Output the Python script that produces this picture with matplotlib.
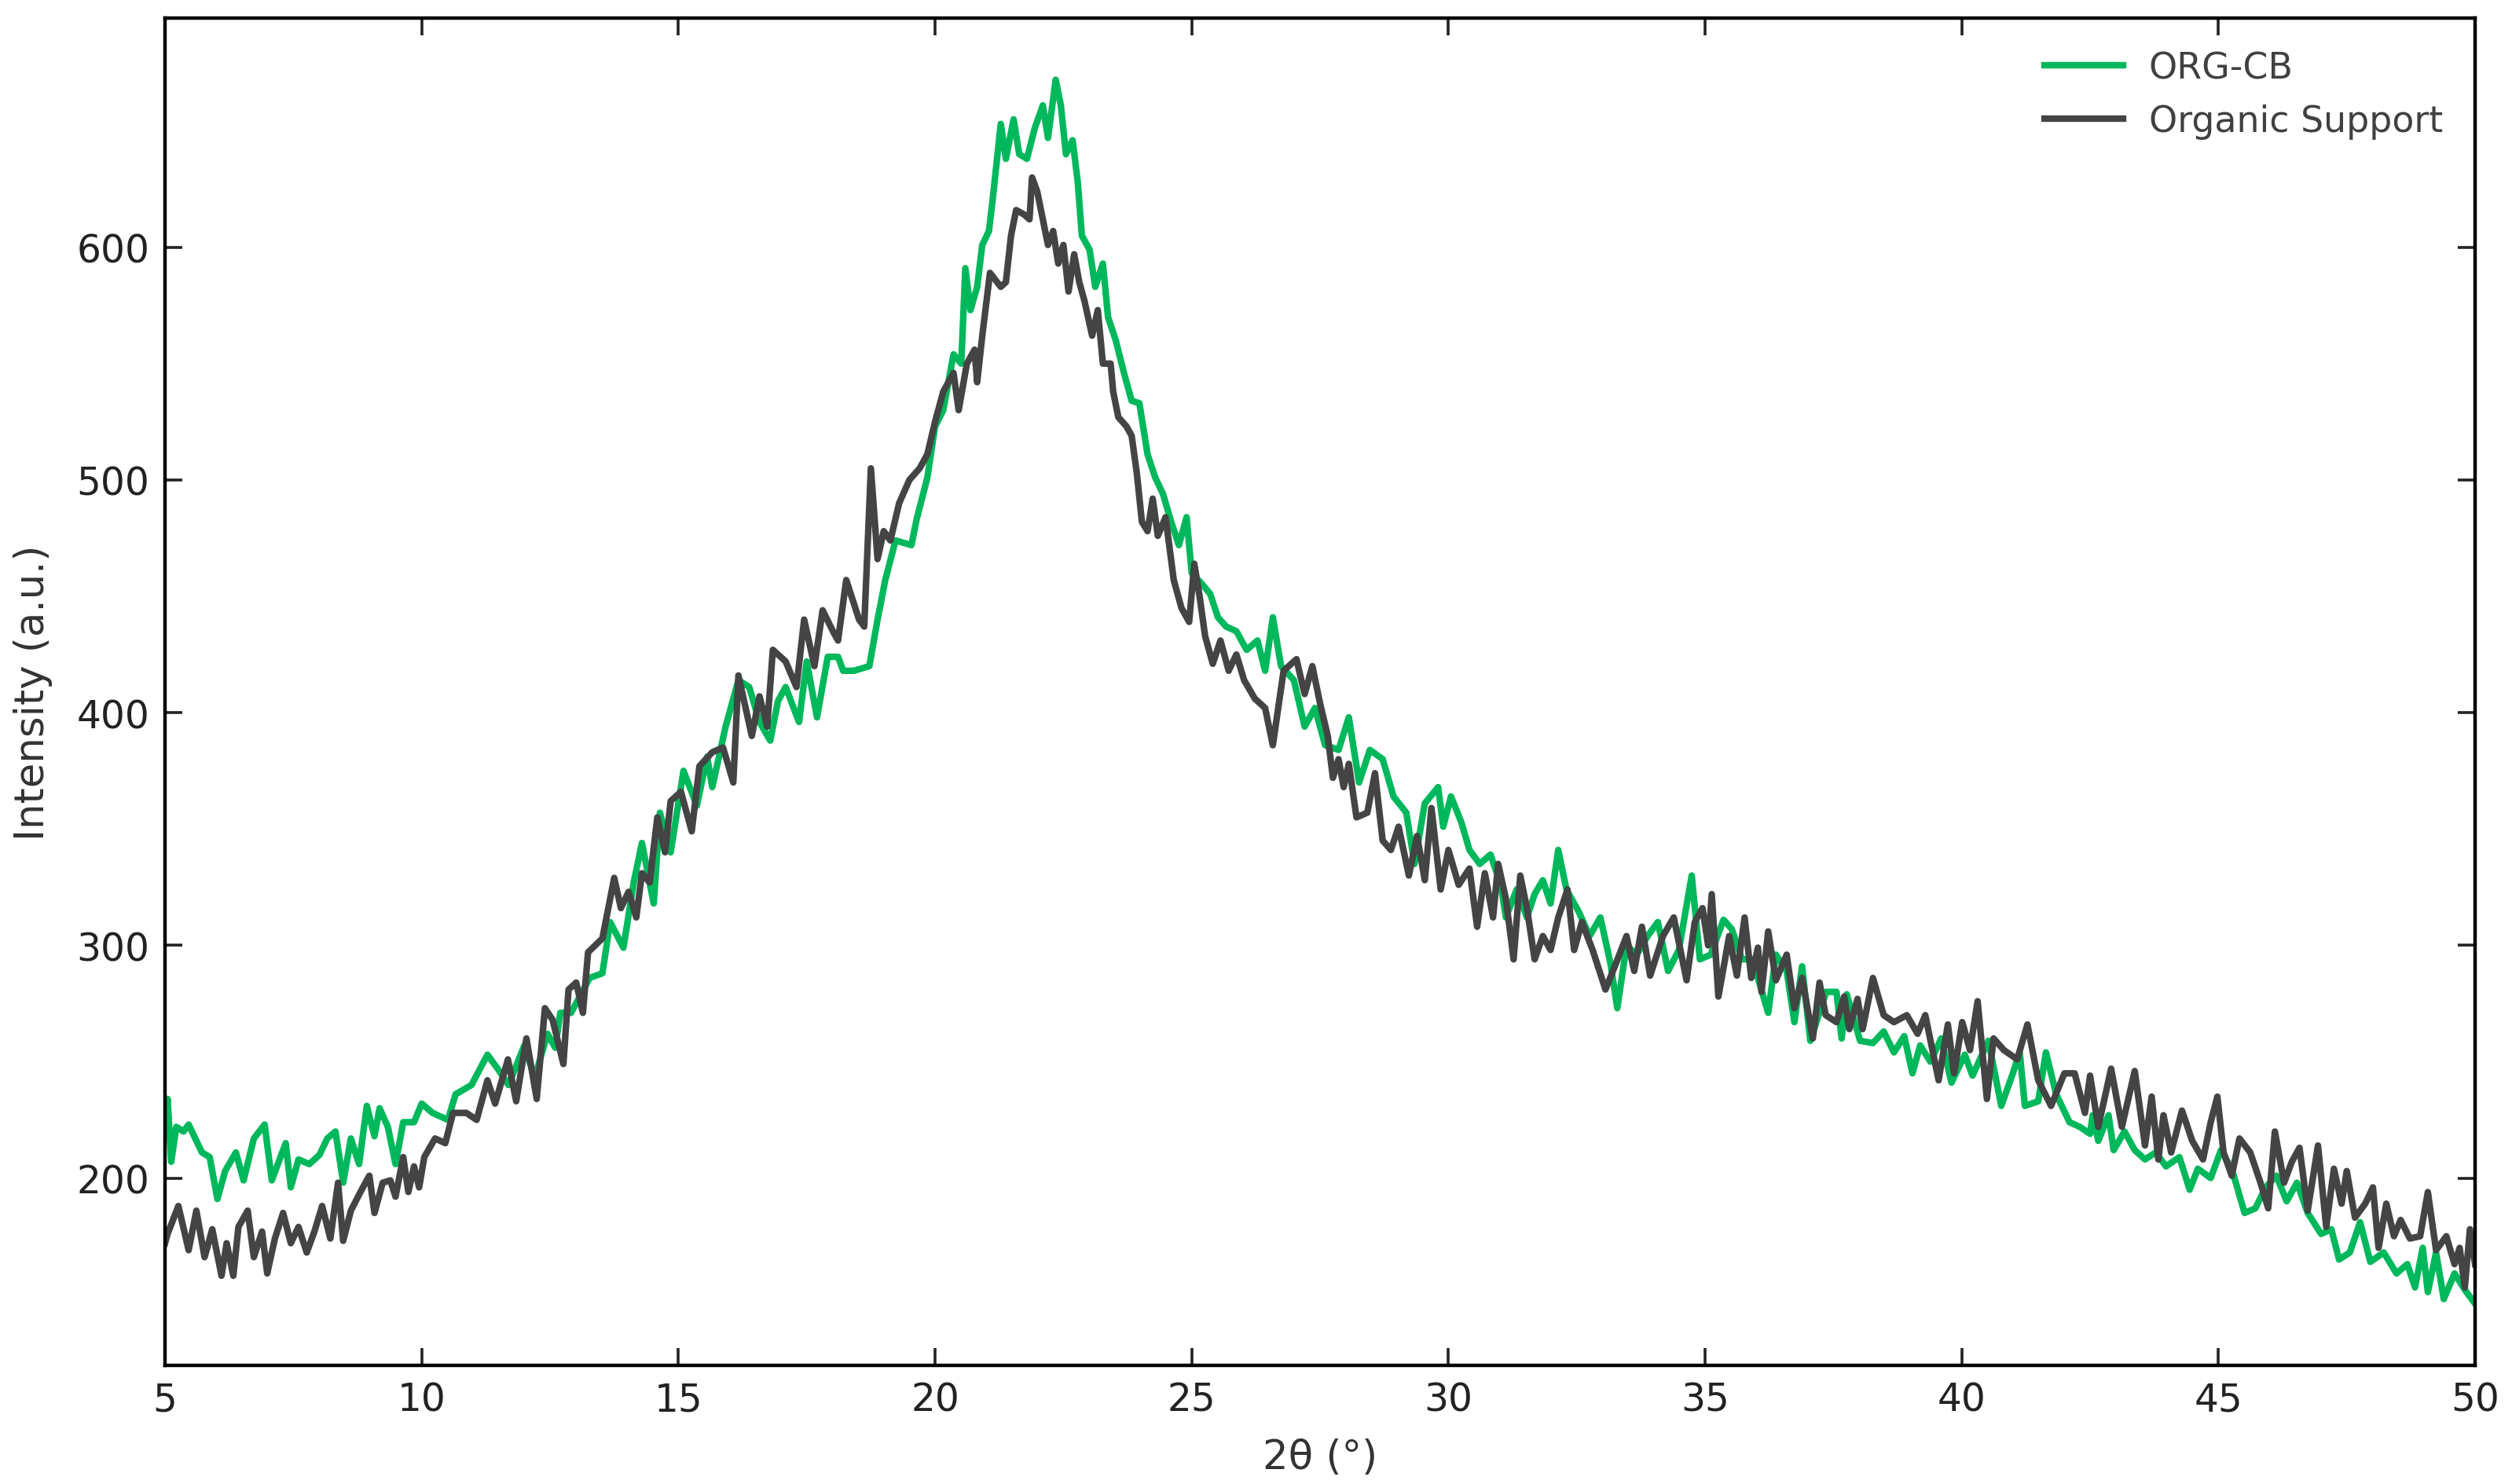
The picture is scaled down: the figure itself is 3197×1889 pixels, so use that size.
import matplotlib
matplotlib.use("Agg")
import matplotlib.pyplot as plt

# ORG-CB pattern
two_theta_org = [
    5.00, 5.05, 5.12, 5.22, 5.36, 5.46, 5.61, 5.72, 5.87, 6.02, 6.17, 6.38, 6.53, 6.73, 6.94,
    7.08, 7.35, 7.45, 7.60, 7.81, 8.01, 8.16, 8.32, 8.47, 8.62, 8.78, 8.93, 9.08, 9.18, 9.34,
    9.49, 9.64, 9.85, 10.00, 10.21, 10.41, 10.51, 10.66, 10.97, 11.28, 11.48, 11.69, 12.00,
    12.20, 12.45, 12.60, 12.70, 12.91, 13.27, 13.52, 13.67, 13.93, 14.13, 14.29, 14.52, 14.64,
    14.85, 15.10, 15.36, 15.56, 15.66, 15.92, 16.17, 16.38, 16.58, 16.79, 16.94, 17.09, 17.35,
    17.50, 17.70, 17.91, 18.11, 18.21, 18.42, 18.72, 18.88, 19.03, 19.23, 19.54, 19.64, 19.85,
    20.00, 20.16, 20.36, 20.51, 20.59, 20.69, 20.82, 20.92, 21.05, 21.13, 21.28, 21.38, 21.53,
    21.64, 21.79, 21.94, 22.10, 22.20, 22.35, 22.45, 22.55, 22.68, 22.78, 22.86, 23.01, 23.12,
    23.27, 23.37, 23.52, 23.68, 23.83, 23.98, 24.14, 24.29, 24.44, 24.60, 24.75, 24.90, 25.00,
    25.21, 25.36, 25.51, 25.67, 25.87, 26.07, 26.28, 26.43, 26.58, 26.74, 26.99, 27.20, 27.40,
    27.60, 27.86, 28.06, 28.26, 28.47, 28.72, 28.93, 29.18, 29.34, 29.54, 29.80, 29.90, 30.05,
    30.25, 30.41, 30.61, 30.82, 31.02, 31.12, 31.33, 31.53, 31.68, 31.84, 31.99, 32.14, 32.30,
    32.55, 32.75, 32.96, 33.16, 33.29, 33.47, 33.67, 33.88, 34.08, 34.28, 34.49, 34.74, 34.90,
    35.11, 35.36, 35.52, 35.72, 35.92, 36.23, 36.38, 36.59, 36.74, 36.89, 37.05, 37.36, 37.56,
    37.66, 37.76, 38.02, 38.27, 38.48, 38.68, 38.88, 39.04, 39.19, 39.39, 39.60, 39.80, 40.06,
    40.21, 40.52, 40.77, 40.98, 41.13, 41.23, 41.49, 41.64, 41.84, 42.10, 42.30, 42.50, 42.55,
    42.66, 42.86, 42.96, 43.17, 43.37, 43.57, 43.78, 43.98, 44.24, 44.44, 44.60, 44.85, 45.05,
    45.26, 45.51, 45.72, 45.92, 46.13, 46.33, 46.53, 46.74, 47.00, 47.20, 47.35, 47.56, 47.76,
    47.96, 48.22, 48.47, 48.68, 48.83, 48.98, 49.08, 49.24, 49.39, 49.60, 49.80, 50.00,
]
intensity_org = [
    218, 234, 207, 222, 220, 223, 216, 211, 209, 191, 203, 211, 199, 217, 223,
    199, 215, 196, 208, 206, 210, 217, 220, 198, 217, 206, 231, 218, 230, 222,
    206, 224, 224, 232, 228, 226, 225, 236, 240, 253, 247, 240, 257,
    243, 262, 256, 271, 271, 286, 288, 310, 299, 327, 344, 318, 357,
    340, 375, 360, 381, 368, 394, 414, 411, 396, 388, 405, 411, 396,
    422, 398, 424, 424, 418, 418, 420, 440, 457, 474, 472, 483, 501,
    523, 530, 554, 550, 591, 573, 583, 601, 607, 622, 653, 638, 655,
    640, 638, 651, 661, 647, 672, 661, 640, 646, 628, 605, 599, 583,
    593, 570, 560, 546, 534, 533, 511, 501, 494, 482, 472, 484, 460,
    455, 451, 441, 437, 435, 427, 431, 418, 441, 420, 414, 394, 402,
    386, 384, 398, 370, 384, 380, 364, 357, 335, 361, 368, 351, 364,
    353, 341, 335, 339, 326, 312, 324, 312, 322, 328, 318, 341, 324,
    314, 304, 312, 292, 273, 300, 296, 304, 310, 289, 298, 330, 294,
    296, 311, 307, 294, 294, 271, 296, 289, 267, 291, 259, 280, 280,
    260, 279, 259, 258, 263, 254, 261, 245, 257, 250, 260, 241, 253,
    244, 259, 231, 244, 254, 231, 233, 254, 236, 224, 222, 219, 227,
    216, 227, 212, 220, 212, 208, 211, 205, 209, 195, 204, 200, 212,
    204, 185, 187, 196, 201, 190, 198, 185, 176, 178, 165, 168, 181,
    164, 168, 159, 163, 153, 170, 151, 168, 148, 159, 152, 146,
]

# Organic Support pattern
two_theta_sup = [
    5.00, 5.05, 5.26, 5.46, 5.61, 5.77, 5.92, 6.10, 6.20, 6.33, 6.43, 6.61, 6.73, 6.89, 6.99,
    7.14, 7.30, 7.45, 7.60, 7.76, 7.91, 8.06, 8.22, 8.37, 8.47, 8.62, 8.83, 8.98, 9.08, 9.24,
    9.39, 9.49, 9.64, 9.74, 9.85, 9.95, 10.05, 10.26, 10.46, 10.61, 10.87, 11.07, 11.28, 11.43,
    11.68, 11.84, 12.04, 12.24, 12.40, 12.55, 12.76, 12.86, 13.01, 13.14, 13.24, 13.52, 13.75,
    13.88, 14.03, 14.18, 14.29, 14.44, 14.59, 14.74, 14.85, 15.05, 15.26, 15.41, 15.66, 15.87,
    16.07, 16.17, 16.43, 16.58, 16.73, 16.84, 17.09, 17.30, 17.45, 17.65, 17.81, 18.01, 18.11,
    18.27, 18.52, 18.62, 18.75, 18.88, 19.00, 19.13, 19.30, 19.50, 19.70, 19.85, 20.00, 20.16,
    20.36, 20.46, 20.62, 20.77, 20.82, 20.92, 21.07, 21.28, 21.38, 21.48, 21.58, 21.74, 21.84,
    21.89, 21.99, 22.10, 22.20, 22.30, 22.40, 22.50, 22.60, 22.71, 22.81, 22.91, 23.06, 23.17,
    23.27, 23.42, 23.47, 23.57, 23.73, 23.83, 23.93, 24.03, 24.14, 24.24, 24.34, 24.49, 24.65,
    24.80, 24.95, 25.05, 25.16, 25.26, 25.41, 25.56, 25.72, 25.87, 26.02, 26.23, 26.43, 26.58,
    26.79, 27.04, 27.20, 27.35, 27.50, 27.65, 27.75, 27.86, 27.96, 28.06, 28.21, 28.42, 28.57,
    28.72, 28.88, 29.03, 29.23, 29.39, 29.54, 29.67, 29.85, 30.00, 30.20, 30.41, 30.56, 30.71,
    30.87, 30.97, 31.12, 31.27, 31.40, 31.53, 31.68, 31.84, 31.99, 32.14, 32.32, 32.45, 32.60,
    32.81, 33.06, 33.26, 33.47, 33.62, 33.77, 33.93, 34.18, 34.39, 34.64, 34.80, 34.95, 35.06,
    35.13, 35.26, 35.47, 35.62, 35.77, 35.90, 36.03, 36.10, 36.23, 36.38, 36.59, 36.74, 36.89,
    37.10, 37.23, 37.35, 37.56, 37.71, 37.81, 37.97, 38.07, 38.27, 38.48, 38.68, 38.93, 39.14,
    39.29, 39.55, 39.73, 39.85, 40.01, 40.16, 40.31, 40.49, 40.62, 40.82, 41.08, 41.28, 41.49,
    41.74, 42.00, 42.20, 42.40, 42.50, 42.66, 42.91, 43.12, 43.37, 43.57, 43.70, 43.83, 43.93,
    44.08, 44.29, 44.49, 44.70, 44.85, 44.98, 45.10, 45.26, 45.41, 45.62, 45.82, 45.97, 46.10,
    46.28, 46.43, 46.58, 46.74, 46.94, 47.10, 47.25, 47.40, 47.50, 47.66, 47.86, 48.01, 48.12,
    48.27, 48.42, 48.55, 48.73, 48.93, 49.08, 49.24, 49.44, 49.60, 49.70, 49.80, 49.90, 50.00,
]
intensity_sup = [
    172, 176, 188, 169, 186, 166, 178, 158, 172, 158, 179, 186, 166, 177, 159,
    174, 185, 172, 179, 168, 177, 188, 174, 198, 173, 186, 195, 201, 185, 198,
    199, 192, 209, 194, 205, 196, 209, 217, 215, 228, 228, 225, 242, 232,
    251, 233, 260, 234, 273, 268, 249, 281, 284, 271, 297, 303, 329,
    316, 323, 312, 331, 327, 355, 340, 362, 366, 349, 377, 383, 385,
    370, 416, 390, 407, 394, 427, 422, 411, 440, 420, 444, 435, 431,
    457, 440, 437, 505, 466, 478, 474, 490, 500, 505, 511, 525, 538,
    546, 530, 550, 556, 542, 562, 589, 583, 585, 605, 616, 614, 612,
    630, 624, 612, 601, 607, 593, 601, 581, 597, 585, 577, 562, 573,
    550, 550, 538, 527, 523, 519, 503, 482, 478, 492, 476, 484, 457,
    445, 439, 464, 449, 433, 421, 431, 418, 425, 414, 406, 402, 386,
    418, 423, 408, 420, 404, 390, 372, 380, 368, 378, 355, 357, 374,
    345, 341, 351, 330, 347, 328, 359, 324, 341, 326, 333, 308, 331,
    312, 335, 320, 294, 330, 316, 294, 304, 298, 312, 324, 298, 310,
    298, 281, 292, 304, 289, 308, 287, 304, 312, 285, 310, 316, 300,
    322, 278, 304, 287, 312, 286, 299, 280, 306, 285, 296, 273, 286,
    260, 284, 270, 267, 278, 264, 277, 264, 286, 270, 267, 270, 262,
    270, 242, 266, 245, 267, 255, 276, 234, 260, 255, 251, 266, 242,
    231, 245, 245, 228, 244, 222, 247, 222, 246, 214, 235, 208, 227,
    211, 229, 216, 208, 224, 235, 211, 201, 217, 211, 198, 187, 220,
    198, 207, 213, 186, 214, 179, 204, 189, 203, 183, 189, 196, 170,
    189, 175, 182, 174, 175, 194, 169, 175, 163, 170, 153, 178, 163,
]

labels = ["ORG-CB", "Organic Support"]
colors = ["#00b85c", "#444444"]

fig = plt.figure(figsize=(15.985, 9.45), dpi=200)
ax = fig.add_axes([0.0657, 0.0799, 0.9196, 0.9074])

ax.plot(two_theta_org, intensity_org, color=colors[0], lw=3.0, label=labels[0])
ax.plot(two_theta_sup, intensity_sup, color=colors[1], lw=3.0, label=labels[1])

ax.set_xlim(5, 50)
ax.set_ylim(119.5, 698.5)
ax.set_xticks([5, 10, 15, 20, 25, 30, 35, 40, 45, 50])
ax.set_yticks([200, 300, 400, 500, 600])

ax.tick_params(direction="in", top=True, right=True, length=8, width=1.3,
               labelsize=17.5, pad=7, colors="#222222")
for sp in ax.spines.values():
    sp.set_linewidth(1.6)
    sp.set_color("black")

ax.set_xlabel("2θ (°)", fontsize=18.5, color="#333333", labelpad=9)
ax.set_ylabel("Intensity (a.u.)", fontsize=18.5, color="#333333", labelpad=11)

leg = ax.legend(loc="upper right", frameon=False, fontsize=16.5,
                handlelength=2.2, handletextpad=0.7, labelspacing=0.5)
for t in leg.get_texts():
    t.set_color("#404040")

fig.savefig("out.png", dpi=200)
